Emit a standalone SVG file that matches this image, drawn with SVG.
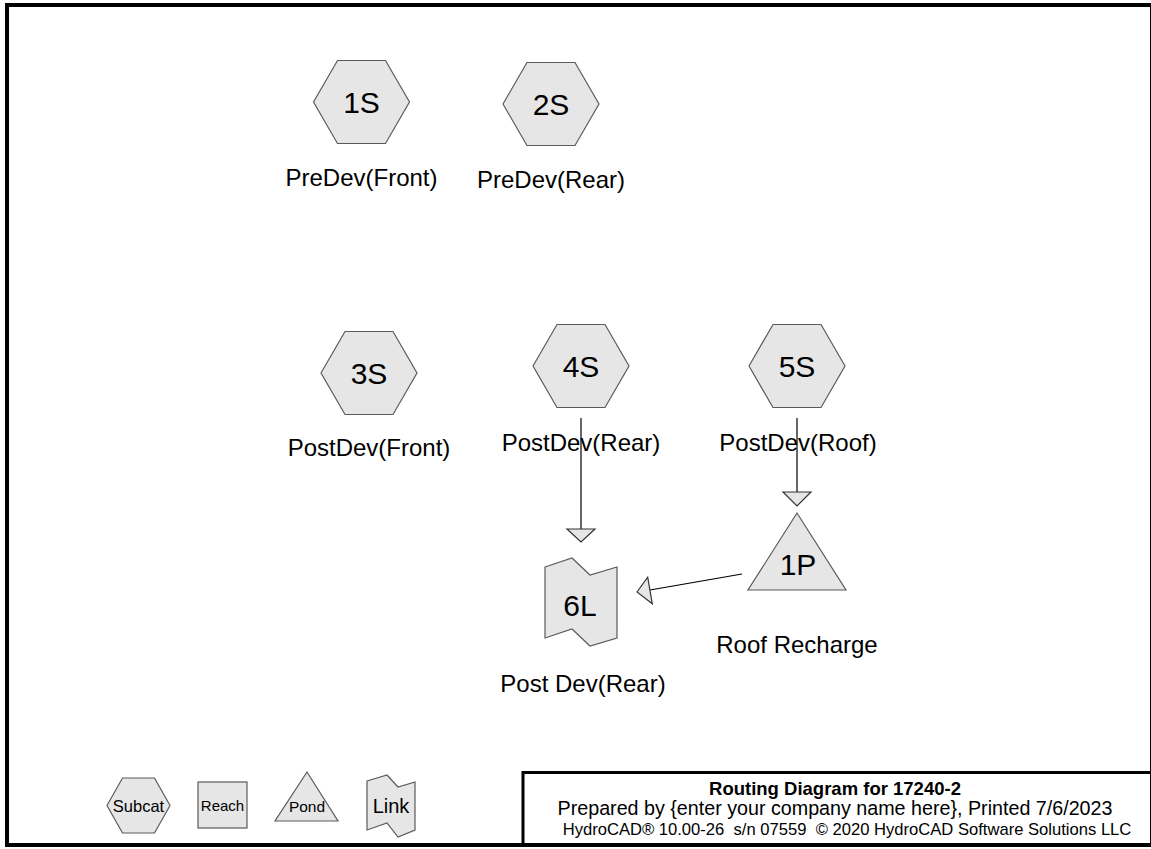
<svg xmlns="http://www.w3.org/2000/svg" xmlns:xlink="http://www.w3.org/1999/xlink" width="1151" height="849" viewBox="0 0 1151 849">
<style>
.sh{fill:#e6e6e6;stroke:#5a5a5a;stroke-width:1.2}
.id{font-family:"Liberation Sans",Arial,sans-serif;font-size:30px;fill:#000;text-anchor:middle}
.lb{font-family:"Liberation Sans",Arial,sans-serif;font-size:24px;fill:#000;text-anchor:middle}
.ln{stroke:#000;stroke-width:1.2;fill:none}
.ah{fill:#e6e6e6;stroke:#333;stroke-width:1.2}
.t{font-family:"Liberation Sans",Arial,sans-serif;fill:#000;text-anchor:middle}
</style>
<defs>
<polygon id="hex" points="-48,0 -24,-41.5 24,-41.5 48,0 24,41.5 -24,41.5"/>
</defs>
<rect x="0" y="0" width="1151" height="849" fill="#fff"/>
<rect x="7" y="5" width="1145" height="840" fill="none" stroke="#000" stroke-width="4"/>
<rect x="523" y="772.5" width="629" height="72.5" fill="none" stroke="#000" stroke-width="3"/>

<g id="n1S"><use xlink:href="#hex" href="#hex" x="361.5" y="102" class="sh"/><text class="id" x="361.5" y="113">1S</text><text class="lb" x="361.5" y="186">PreDev(Front)</text></g>
<g id="n2S"><use xlink:href="#hex" href="#hex" x="551" y="104" class="sh"/><text class="id" x="551" y="115">2S</text><text class="lb" x="551" y="188">PreDev(Rear)</text></g>
<g id="n3S"><use xlink:href="#hex" href="#hex" x="369" y="373" class="sh"/><text class="id" x="369" y="384">3S</text><text class="lb" x="369" y="456">PostDev(Front)</text></g>
<g id="n4S"><use xlink:href="#hex" href="#hex" x="581" y="366" class="sh"/><text class="id" x="581" y="377">4S</text><text class="lb" x="581" y="451">PostDev(Rear)</text></g>
<g id="n5S"><use xlink:href="#hex" href="#hex" x="797" y="366" class="sh"/><text class="id" x="797" y="377">5S</text><text class="lb" x="798" y="451">PostDev(Roof)</text></g>
<g id="n1P"><polygon class="sh" points="797,513 748,590 846,590"/><text class="id" x="798" y="575">1P</text><text class="lb" x="797" y="653">Roof Recharge</text></g>
<g id="n6L"><polygon class="sh" points="545,567 572,558 590,575 617,567 617,638 590,646 572,629 545,638"/><text class="id" x="580" y="616">6L</text><text class="lb" x="583" y="692">Post Dev(Rear)</text></g>

<g id="connectors">
<line class="ln" x1="581" y1="418" x2="581" y2="529"/>
<polygon class="ah" points="567,529 595,529 581,542"/>
<line class="ln" x1="797" y1="418" x2="797" y2="492"/>
<polygon class="ah" points="783,492 811,492 797,506"/>
<line class="ln" x1="742" y1="574" x2="650" y2="590"/>
<polygon class="ah" points="637,592 647.7,577.2 652.3,603.8"/>
</g>

<g id="legend">
<g id="lg-subcat"><polygon class="sh" points="107,805.5 122.5,778 154.5,778 170,805.5 154.5,833 122.5,833"/><text class="t" x="138.5" y="811.5" font-size="16.5">Subcat</text></g>
<g id="lg-reach"><rect class="sh" x="198" y="782" width="49" height="46"/><text class="t" x="222.5" y="810.5" font-size="15">Reach</text></g>
<g id="lg-pond"><polygon class="sh" points="307,772 275,821 338,821"/><text class="t" x="307" y="811.5" font-size="15.5">Pond</text></g>
<g id="lg-link"><polygon class="sh" points="367,781 387,775 398,787 415,782 415,830 398,837 387,823 367,830"/><text class="t" x="391" y="813" font-size="20">Link</text></g>
</g>

<g id="title">
<text class="t" x="835" y="794.5" font-size="18.5" font-weight="bold">Routing Diagram for 17240-2</text>
<text class="t" x="835" y="815" font-size="19.7">Prepared by {enter your company name here},  Printed 7/6/2023</text>
<text class="t" x="847" y="835" font-size="16.6" xml:space="preserve">HydroCAD® 10.00-26  s/n 07559  © 2020 HydroCAD Software Solutions LLC</text>
</g>
</svg>
